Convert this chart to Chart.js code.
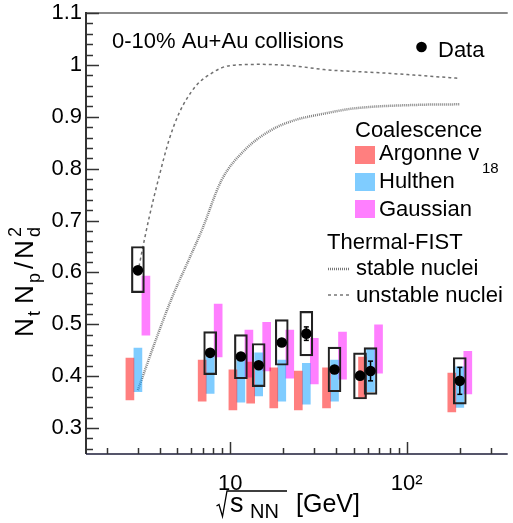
<!DOCTYPE html>
<html>
<head>
<meta charset="utf-8">
<script src="https://cdn.jsdelivr.net/npm/chart.js@4.4.1/dist/chart.umd.min.js"></script>
<style>
  html, body { margin: 0; padding: 0; background: #fff; }
</style>
</head>
<body>
<canvas id="chart" width="513" height="523"></canvas>
<script>
// measured data (0-10% Au+Au)
const energies = [3, 7.7, 11.5, 14.5, 19.6, 27, 39, 54.4, 62.4, 200];
const ratio    = [0.604, 0.445, 0.438, 0.421, 0.465, 0.482, 0.413, 0.401, 0.410, 0.391];
const statErr  = [0.008, 0.005, 0.005, 0.006, 0.005, 0.013, 0.006, 0.006, 0.019, 0.026];
const sysLow   = [0.561, 0.403, 0.395, 0.380, 0.421, 0.439, 0.370, 0.356, 0.365, 0.346];
const sysHigh  = [0.650, 0.486, 0.480, 0.463, 0.509, 0.525, 0.456, 0.445, 0.455, 0.436];

// coalescence bands (no calculation at 54.4)
const coalE        = [3, 7.7, 11.5, 14.5, 19.6, 27, 39, 62.4, 200];
const argonneLow   = [0.354, 0.352, 0.335, 0.348, 0.339, 0.335, 0.339, 0.357, 0.331];
const argonneHigh  = [0.435, 0.431, 0.412, 0.427, 0.416, 0.410, 0.416, 0.437, 0.406];
const hulthenLow   = [0.370, 0.367, 0.350, 0.362, 0.352, 0.346, 0.352, 0.370, 0.340];
const hulthenHigh  = [0.454, 0.447, 0.432, 0.445, 0.431, 0.425, 0.431, 0.452, 0.418];
const gaussLow     = [0.479, 0.437, 0.398, 0.410, 0.396, 0.385, 0.394, 0.406, 0.366];
const gaussHigh    = [0.593, 0.539, 0.489, 0.504, 0.489, 0.473, 0.485, 0.499, 0.448];

// Thermal-FIST curves
const stableE   = [3.0, 3.79, 4.7, 5.82, 6.9, 8.94, 12.1, 17, 23, 34, 50, 117, 200];
const stableR   = [0.373, 0.47, 0.553, 0.624, 0.681, 0.778, 0.836, 0.874, 0.893, 0.906, 0.916, 0.923, 0.924];
const unstableE = [3.0, 3.12, 3.48, 3.95, 4.5, 5.12, 6.34, 7.86, 9.74, 15, 23, 34, 77, 200];
const unstableR = [0.60, 0.63, 0.707, 0.784, 0.855, 0.906, 0.958, 0.984, 0.998, 1.001, 0.998, 0.991, 0.984, 0.974];

const yTicks = [0.3, 0.4, 0.5, 0.6, 0.7, 0.8, 0.9, 1.0, 1.1];
const yTickLabels = ['0.3', '0.4', '0.5', '0.6', '0.7', '0.8', '0.9', '1', '1.1'];
const xTicks = [10, 100];
const xTickLabels = ['10', '10\u00B2'];

const FONT = '"Liberation Sans", Arial, Helvetica, sans-serif';
const X_MIN = 1.524, X_MAX = 373.6;

const pts = (xs, ys) => xs.map((x, i) => ({ x: x, y: ys[i] }));
const band = (xs, lo, hi) => xs.map((x, i) => ({ x: x, y: [lo[i], hi[i]] }));

function line(ctx, x1, y1, x2, y2) {
  ctx.beginPath(); ctx.moveTo(x1, y1); ctx.lineTo(x2, y2); ctx.stroke();
}

// axes frame with inward ticks
const frame = {
  id: 'frame',
  afterDatasetsDraw(chart) {
    const { ctx, chartArea: a, scales: { x, y } } = chart;
    ctx.save();
    ctx.strokeStyle = '#8a8a8a'; ctx.lineWidth = 2;
    line(ctx, a.left, a.top, a.right, a.top);
    ctx.strokeStyle = '#333'; ctx.lineWidth = 2;
    line(ctx, a.left, a.top - 1, a.left, a.bottom);
    ctx.strokeStyle = '#1c1c38'; ctx.lineWidth = 1.5;
    line(ctx, a.left, a.bottom, a.right, a.bottom);

    ctx.strokeStyle = '#333'; ctx.lineWidth = 1.5;
    for (let i = 13; i <= 55; i++) {
      const py = Math.round(y.getPixelForValue(i * 0.02)) + 0.5;
      const len = i % 5 === 0 ? 13 : 7;
      line(ctx, a.left, py, a.left + len, py);
    }
    for (let d = 1; d <= 100; d *= 10) {
      for (let k = 1; k <= 9; k++) {
        const v = k * d;
        if (v < X_MIN || v > X_MAX) continue;
        const px = Math.round(x.getPixelForValue(v)) + 0.5;
        const len = k === 1 ? 12 : 6;
        line(ctx, px, a.bottom, px, a.bottom - len);
      }
    }

    // statistical error bars on data points
    const meta = chart.getDatasetMeta(0);
    ctx.strokeStyle = '#000'; ctx.lineWidth = 1.5;
    meta.data.forEach((p, i) => {
      const top = y.getPixelForValue(ratio[i] + statErr[i]);
      const bot = y.getPixelForValue(ratio[i] - statErr[i]);
      line(ctx, p.x, top, p.x, bot);
      if (bot - top > 12) {
        line(ctx, p.x - 2.5, top, p.x + 2.5, top);
        line(ctx, p.x - 2.5, bot, p.x + 2.5, bot);
      }
    });
    ctx.restore();
  }
};

// text, legend and axis titles
const labels = {
  id: 'labels',
  afterDraw(chart) {
    const { ctx } = chart;
    ctx.save();
    ctx.fillStyle = '#000';
    ctx.textBaseline = 'alphabetic';
    ctx.textAlign = 'left';
    const f = (s) => s + 'px ' + FONT;
    const txt = (t, x, yy, s) => { ctx.font = f(s); ctx.fillText(t, x, yy); return ctx.measureText(t).width; };

    txt('0-10% Au+Au collisions', 112, 48, 22);

    ctx.beginPath(); ctx.arc(421.5, 47, 5.3, 0, Math.PI * 2); ctx.fill();
    txt('Data', 438, 57, 22);

    txt('Coalescence', 355, 137, 22);
    const sw = [['rgba(255,0,0,0.5)', 146], ['rgba(0,153,255,0.5)', 173], ['rgba(255,0,255,0.5)', 200]];
    sw.forEach(([c, t]) => { ctx.fillStyle = c; ctx.fillRect(355, t, 20, 18); });
    ctx.fillStyle = '#000';
    txt('Argonne v', 379, 160, 22);
    txt('18', 482, 173, 15);
    txt('Hulthen', 379, 188, 22);
    txt('Gaussian', 379, 216, 22);

    txt('Thermal-FIST', 327, 249, 22);
    ctx.strokeStyle = '#777';
    ctx.lineWidth = 2.5; ctx.setLineDash([1, 1]);
    line(ctx, 328, 269, 349, 269);
    ctx.lineWidth = 1.5; ctx.setLineDash([3, 3]);
    line(ctx, 328, 295, 349, 295);
    ctx.setLineDash([]);
    txt('stable nuclei', 356, 275, 22);
    txt('unstable nuclei', 356, 302, 22);

    // x title: sqrt(s_NN) [GeV]
    ctx.strokeStyle = '#000'; ctx.lineWidth = 1.3;
    ctx.beginPath();
    ctx.moveTo(216.5, 506); ctx.lineTo(219, 504.5); ctx.lineTo(222.5, 516.5);
    ctx.lineTo(227, 491); ctx.lineTo(287, 491);
    ctx.stroke();
    txt('s', 230, 512, 27);
    txt('NN', 250, 518, 20);
    txt('[GeV]', 296, 512, 25);

    // y title: N_t N_p / N_d^2 (rotated, reads bottom to top)
    ctx.translate(33, 337);
    ctx.rotate(-Math.PI / 2);
    txt('N', 0, 0, 26);
    txt('t', 21, 7, 18);
    txt('N', 33, 0, 26);
    txt('p', 54, 7, 18);
    txt('/', 68, 0, 26);
    txt('N', 78, 0, 26);
    txt('2', 100, -12, 18);
    txt('d', 100, 7, 18);
    ctx.restore();
  }
};

new Chart(document.getElementById('chart'), {
  type: 'bar',
  data: {
    datasets: [
      {
        type: 'scatter', label: 'Data', data: pts(energies, ratio),
        pointRadius: 5.3, pointBackgroundColor: '#000', pointBorderWidth: 0, order: 0
      },
      {
        label: 'sys', data: band(energies, sysLow, sysHigh), grouped: false,
        backgroundColor: 'rgba(0,0,0,0)', borderColor: '#222', borderWidth: 1.5,
        borderSkipped: false, barThickness: 13, order: 1
      },
      {
        label: 'Argonne v18', data: band(coalE, argonneLow, argonneHigh),
        backgroundColor: 'rgba(255,0,0,0.5)', barThickness: 8, order: 2
      },
      {
        label: 'Hulthen', data: band(coalE, hulthenLow, hulthenHigh),
        backgroundColor: 'rgba(0,153,255,0.5)', barThickness: 8, order: 2
      },
      {
        label: 'Gaussian', data: band(coalE, gaussLow, gaussHigh),
        backgroundColor: 'rgba(255,0,255,0.5)', barThickness: 8, order: 2
      },
      {
        type: 'line', label: 'stable nuclei', data: pts(stableE, stableR),
        borderColor: '#808080', borderWidth: 2.5, borderDash: [1, 1],
        pointRadius: 0, cubicInterpolationMode: 'monotone', fill: false, order: 5
      },
      {
        type: 'line', label: 'unstable nuclei', data: pts(unstableE, unstableR),
        borderColor: '#707070', borderWidth: 1.5, borderDash: [3, 3],
        pointRadius: 0, cubicInterpolationMode: 'monotone', fill: false, order: 5
      }
    ]
  },
  options: {
    responsive: false,
    animation: false,
    devicePixelRatio: 1,
    layout: { padding: { top: 13, right: 0, left: 0, bottom: 0 } },
    plugins: { legend: { display: false }, tooltip: { enabled: false } },
    scales: {
      x: {
        type: 'logarithmic', min: X_MIN, max: X_MAX, offset: false,
        grid: { display: false, drawTicks: false }, border: { display: false },
        ticks: {
          font: { size: 22, family: FONT }, color: '#000', padding: 17,
          maxRotation: 0, autoSkip: false,
          callback: (v) => xTickLabels[xTicks.indexOf(v)]
        },
        afterBuildTicks: (s) => { s.ticks = xTicks.map(v => ({ value: v })); },
        afterFit: (s) => { s.height = 69; s.paddingLeft = 0; s.paddingRight = 0; }
      },
      y: {
        min: 0.25, max: 1.1,
        grid: { display: false, drawTicks: false }, border: { display: false },
        ticks: {
          font: { size: 22, family: FONT }, color: '#000', padding: 4,
          callback: (v) => yTickLabels[yTicks.findIndex(t => Math.abs(t - v) < 1e-6)]
        },
        afterBuildTicks: (s) => { s.ticks = yTicks.map(v => ({ value: v })); },
        afterFit: (s) => { s.width = 86; s.paddingTop = 0; s.paddingBottom = 0; }
      }
    }
  },
  plugins: [frame, labels]
});
</script>
</body>
</html>
